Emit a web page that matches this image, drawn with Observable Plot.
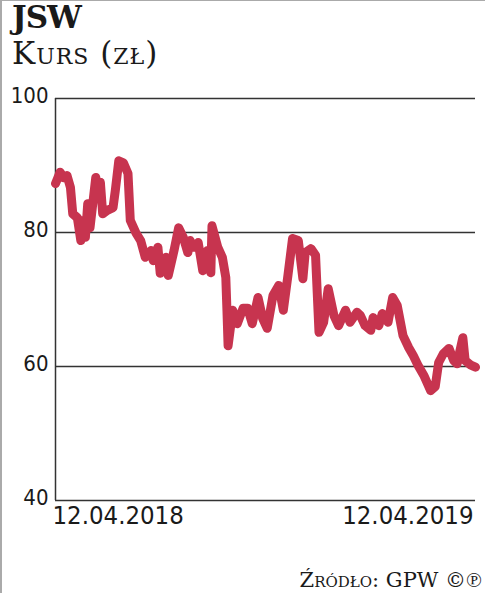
<!DOCTYPE html>
<html><head><meta charset="utf-8">
<script src="https://cdn.jsdelivr.net/npm/d3@7"></script>
<script src="https://cdn.jsdelivr.net/npm/@observablehq/plot@0.6"></script>
<style>
html,body{margin:0;padding:0;background:#fff;}
#wrap{position:relative;width:485px;height:593px;overflow:hidden;background:#fff;box-shadow:inset 2px 1px 0 0 #aaa;}
.t{position:absolute;white-space:nowrap;color:#1a1a1a;line-height:1;}
#title{left:12px;top:2px;font-family:"DejaVu Serif",serif;font-weight:bold;font-size:31px;letter-spacing:-1px;}
#sub{left:12px;top:38px;font-family:"DejaVu Serif",serif;font-size:31px;letter-spacing:1px;font-variant:small-caps;}
#src{right:3px;top:570px;font-family:"DejaVu Serif",serif;font-size:21px;font-variant:small-caps;}
#chart{position:absolute;left:0;top:75px;}
</style></head>
<body><div id="wrap">
<div class="t" id="title">JSW</div>
<div class="t" id="sub">Kurs (zł)</div>
<div id="chart"></div>
<div class="t" id="src">Źródło: GPW ©℗</div>
</div>
<script>
const dates = ["2018-04-12","2018-04-16","2018-04-19","2018-04-22","2018-04-25","2018-04-27","2018-05-01","2018-05-04","2018-05-06","2018-05-08","2018-05-10","2018-05-12","2018-05-17","2018-05-19","2018-05-21","2018-05-23","2018-05-27","2018-06-01","2018-06-03","2018-06-06","2018-06-10","2018-06-14","2018-06-16","2018-06-21","2018-06-25","2018-06-29","2018-07-04","2018-07-06","2018-07-10","2018-07-12","2018-07-17","2018-07-19","2018-07-24","2018-07-28","2018-08-01","2018-08-05","2018-08-07","2018-08-10","2018-08-14","2018-08-18","2018-08-22","2018-08-25","2018-08-26","2018-08-31","2018-09-04","2018-09-07","2018-09-08","2018-09-09","2018-09-13","2018-09-17","2018-09-22","2018-09-26","2018-09-30","2018-10-05","2018-10-09","2018-10-13","2018-10-18","2018-10-23","2018-10-27","2018-10-31","2018-11-04","2018-11-09","2018-11-13","2018-11-15","2018-11-20","2018-11-24","2018-11-27","2018-12-01","2018-12-05","2018-12-10","2018-12-14","2018-12-20","2018-12-24","2018-12-30","2019-01-02","2019-01-06","2019-01-11","2019-01-13","2019-01-18","2019-01-21","2019-01-26","2019-01-30","2019-02-03","2019-02-08","2019-02-13","2019-02-17","2019-02-21","2019-02-26","2019-03-04","2019-03-08","2019-03-11","2019-03-15","2019-03-20","2019-03-24","2019-03-27","2019-04-01","2019-04-03","2019-04-08","2019-04-12"];
const prices = [87.3,89.0,88.2,88.5,86.7,82.8,82.2,78.8,81.8,79.3,84.3,80.7,88.2,86.7,87.5,82.8,83.3,83.7,86.3,90.7,90.4,88.8,81.8,79.9,78.8,76.3,77.3,75.8,77.8,73.9,76.3,73.6,77.3,80.7,79.3,77.0,78.8,77.8,78.5,74.3,77.3,74.0,81.0,77.8,76.3,73.3,68.4,63.1,68.4,66.4,68.7,68.7,66.4,70.3,67.2,65.7,70.6,72.1,68.4,73.6,79.1,78.8,73.1,77.0,77.6,76.6,65.1,66.6,71.6,67.6,66.1,68.4,66.6,68.1,67.6,66.1,65.4,67.3,66.1,67.9,66.6,70.3,69.1,64.6,62.8,61.6,60.2,58.7,56.4,57.0,60.6,61.9,62.7,60.9,60.4,64.3,60.9,60.2,59.9];
const yTicks = [40,60,80,100];
const gridValues = [60,80,100];
const xTickDates = ["2018-04-12","2019-04-12"];
const xTickLabels = ["12.04.2018","12.04.2019"];

const data = dates.map((d,i)=>({date:new Date(d+"T00:00:00Z"), price:prices[i]}));
const xd = xTickDates.map(d=>new Date(d+"T00:00:00Z"));
const condensed = "'DejaVu Sans Condensed','Liberation Sans Narrow',sans-serif";

const chart = Plot.plot({
  width:485, height:470,
  marginLeft:55, marginRight:10, marginTop:23, marginBottom:45,
  style:{fontFamily:condensed, color:"#1a1a1a", background:"transparent"},
  x:{type:"utc", domain:[xd[0], xd[1]], axis:null},
  y:{domain:[40,100], axis:null},
  marks:[
    Plot.ruleY(gridValues, {stroke:"#333", strokeWidth:1.5}),
    Plot.ruleY([40], {stroke:"#333", strokeWidth:1.5}),
    Plot.ruleX([xd[0]], {y1:40, y2:100, stroke:"#333", strokeWidth:1.5}),
    Plot.axisY({ticks:yTicks, tickSize:0, tickPadding:7, fontSize:22, dy:-3, label:null}),
    Plot.text([xd[0]], {x:d=>d, text:()=>xTickLabels[0], frameAnchor:"bottom", textAnchor:"start", dx:-3, dy:23, fontSize:25.5}),
    Plot.text([xd[1]], {x:d=>d, text:()=>xTickLabels[1], frameAnchor:"bottom", textAnchor:"end", dx:-2, dy:23, fontSize:25.5}),
    Plot.line(data, {x:"date", y:"price", stroke:"#c7344f", strokeWidth:9, strokeLinejoin:"round", strokeLinecap:"round"})
  ]
});
document.getElementById("chart").appendChild(chart);
</script>
</body></html>
